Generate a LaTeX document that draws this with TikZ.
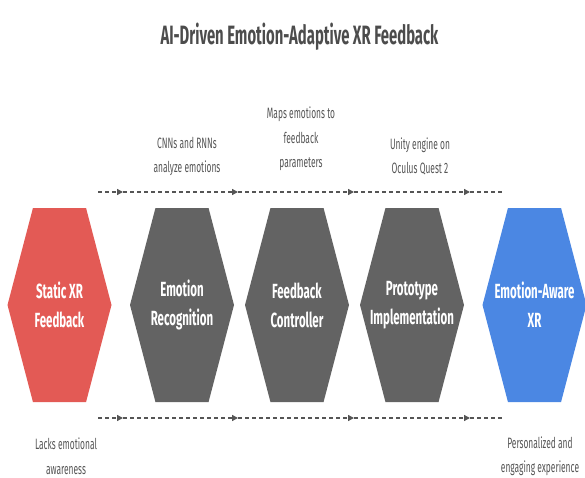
\documentclass[tikz,border=0pt]{standalone}
\usepackage{fontspec}
\setmainfont{Fira Sans}[FakeStretch=0.56]
\usetikzlibrary{shapes.symbols,arrows.meta}

\definecolor{hexred}{HTML}{E35A55}
\definecolor{hexgray}{HTML}{636363}
\definecolor{hexblue}{HTML}{4B87E3}
\definecolor{labelgray}{HTML}{555555}

\tikzset{
  stage/.style={signal, signal to=west and east, signal pointer angle=150.6,
    minimum width=104pt, minimum height=194pt, inner sep=0pt},
  stagetext/.style={text=white, align=center, font=\fontsize{20.5}{29}\selectfont\bfseries},
  note/.style={text=labelgray, align=center, font=\fontsize{15}{24.5}\selectfont},
  flow/.style={draw=labelgray, line width=1.4pt, dash pattern=on 4pt off 3pt},
  tip/.style={-{Triangle[length=6pt,width=6pt]}},
}

\begin{document}
\begin{tikzpicture}[x=1pt,y=1pt]
\useasboundingbox (0,0) rectangle (585,477);

\node[font=\fontsize{26.5}{30}\selectfont\bfseries, text=labelgray!90!black] (title) at (299.5,440) {AI-Driven Emotion-Adaptive XR Feedback};

% stages
\node[stage, fill=hexred,  label={[stagetext]center:{Static XR\\Feedback}}]        (static)  at (59.5,172) {};
\node[stage, fill=hexgray, label={[stagetext]center:{Emotion\\Recognition}}]       (recog)   at (182,172)  {};
\node[stage, fill=hexgray, label={[stagetext]center:{Feedback\\Controller}}]       (control) at (297,172)  {};
\node[stage, fill=hexgray, label={[stagetext]center:{Prototype\\Implementation}}]  (proto)   at (412,172)  {};
\node[stage, fill=hexblue, label={[stagetext]center:{Emotion-Aware\\XR}}]          (aware)   at (534.5,172) {};

% notes
\node[note] (recognote)   at (187,320.5) {CNNs and RNNs\\analyze emotions};
\node[note] (controlnote) at (301,338)   {Maps emotions to\\feedback\\parameters};
\node[note] (protonote)   at (420,320.5) {Unity engine on\\Oculus Quest 2};
\node[note] (staticnote)  at (66,21)     {Lacks emotional\\awareness};
\node[note] (awarenote)   at (540,21)    {Personalized and\\engaging experience};

% dashed flow lines
\foreach \y/\r in {285/t, 59/b} {
  \coordinate (\r0) at (98,\y);
  \coordinate (\r1) at (123,\y);
  \coordinate (\r2) at (238,\y);
  \coordinate (\r3) at (354,\y);
  \coordinate (\r4) at (470,\y);
  \coordinate (\r5) at (503,\y);
  \draw[flow,tip] (\r0) -- (\r1);
  \draw[flow,tip] (\r1) -- (\r2);
  \draw[flow,tip] (\r2) -- (\r3);
  \draw[flow,tip] (\r3) -- (\r4);
  \draw[flow] (\r4) -- (\r5);
}
\end{tikzpicture}
\end{document}
